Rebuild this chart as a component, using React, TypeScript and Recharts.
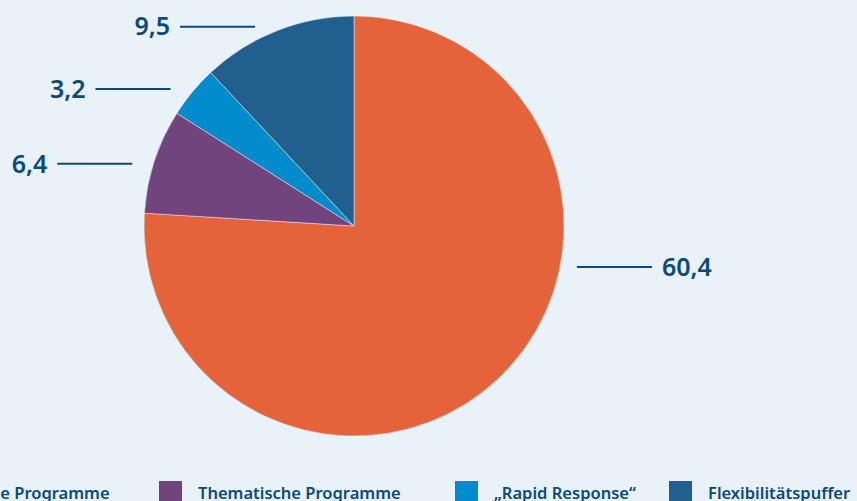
import React from "react";
import { PieChart, Pie, Cell, Legend } from "recharts";

const categories = [
  "Geografische Programme",
  "Thematische Programme",
  "\u201eRapid Response\u201c",
  "Flexibilitätspuffer",
];
const values = [60.4, 6.4, 3.2, 9.5];
const valueLabels = ["60,4", "6,4", "3,2", "9,5"];
const colors = ["#e4633a", "#72447e", "#008bcc", "#215f8e"];

const data = categories.map((name, i) => ({ name, value: values[i], label: valueLabels[i] }));

const TEXT = "#0b4a7a";
const BG = "#e9f1f9";
const FONT = "'Noto Sans', sans-serif";
const RAD = Math.PI / 180;

const renderLabel = (props: any) => {
  const { cx, cy, midAngle, outerRadius, index } = props;
  const cos = Math.cos(midAngle * RAD);
  const sin = Math.sin(midAngle * RAD);
  const lineLen = 75;
  const label = valueLabels[index];
  if (cos > 0) {
    const x1 = cx + outerRadius + 13;
    const y = cy + outerRadius * 0.195;
    return (
      <g>
        <line x1={x1} x2={x1 + lineLen} y1={y} y2={y} stroke={TEXT} strokeWidth={2} />
        <text x={x1 + lineLen + 10} y={y} dy="0.35em" fill={TEXT} fontSize={25} fontWeight={600} fontFamily={FONT} textAnchor="start">
          {label}
        </text>
      </g>
    );
  }
  const ex = cx + outerRadius * cos - 22;
  const y = cy - outerRadius * 1.02 * sin + (sin < 0.5 ? 4 : 0);
  return (
    <g>
      <line x1={ex - lineLen} x2={ex} y1={y} y2={y} stroke={TEXT} strokeWidth={2} />
      <text x={ex - lineLen - 10} y={y} dy="0.35em" fill={TEXT} fontSize={25} fontWeight={600} fontFamily={FONT} textAnchor="end">
        {label}
      </text>
    </g>
  );
};

const itemWidths = [294, 296, 214, 220];

const renderLegend = () => (
  <div style={{ display: "flex", flexDirection: "row", alignItems: "center" }}>
    {categories.map((name, i) => (
      <div key={name} style={{ display: "flex", alignItems: "center", width: itemWidths[i], flex: "none" }}>
        <div style={{ width: 23, height: 23, background: colors[i], marginRight: 16, flex: "none" }} />
        <span style={{ color: TEXT, fontFamily: FONT, fontWeight: 600, fontSize: 16.5, whiteSpace: "nowrap", lineHeight: "23px" }}>
          {name}
        </span>
      </div>
    ))}
  </div>
);

export default function App() {
  return (
    <div style={{ position: "fixed", left: 0, top: 0, width: 857, height: 501, overflow: "hidden", background: BG }}>
      <PieChart width={857} height={501} margin={{ top: 0, right: 0, bottom: 0, left: 0 }}>
        <Pie
          data={data}
          dataKey="value"
          nameKey="name"
          cx={354}
          cy={226}
          outerRadius={210}
          startAngle={90}
          endAngle={-270}
          stroke={BG}
          strokeWidth={0.5}
          label={renderLabel}
          labelLine={false}
          isAnimationActive={false}
        >
          {data.map((d, i) => (
            <Cell key={d.name} fill={colors[i]} />
          ))}
        </Pie>
        <Legend
          content={renderLegend}
          wrapperStyle={{ position: "absolute", top: 481, left: -135, width: 1100, height: 23 }}
        />
      </PieChart>
    </div>
  );
}
